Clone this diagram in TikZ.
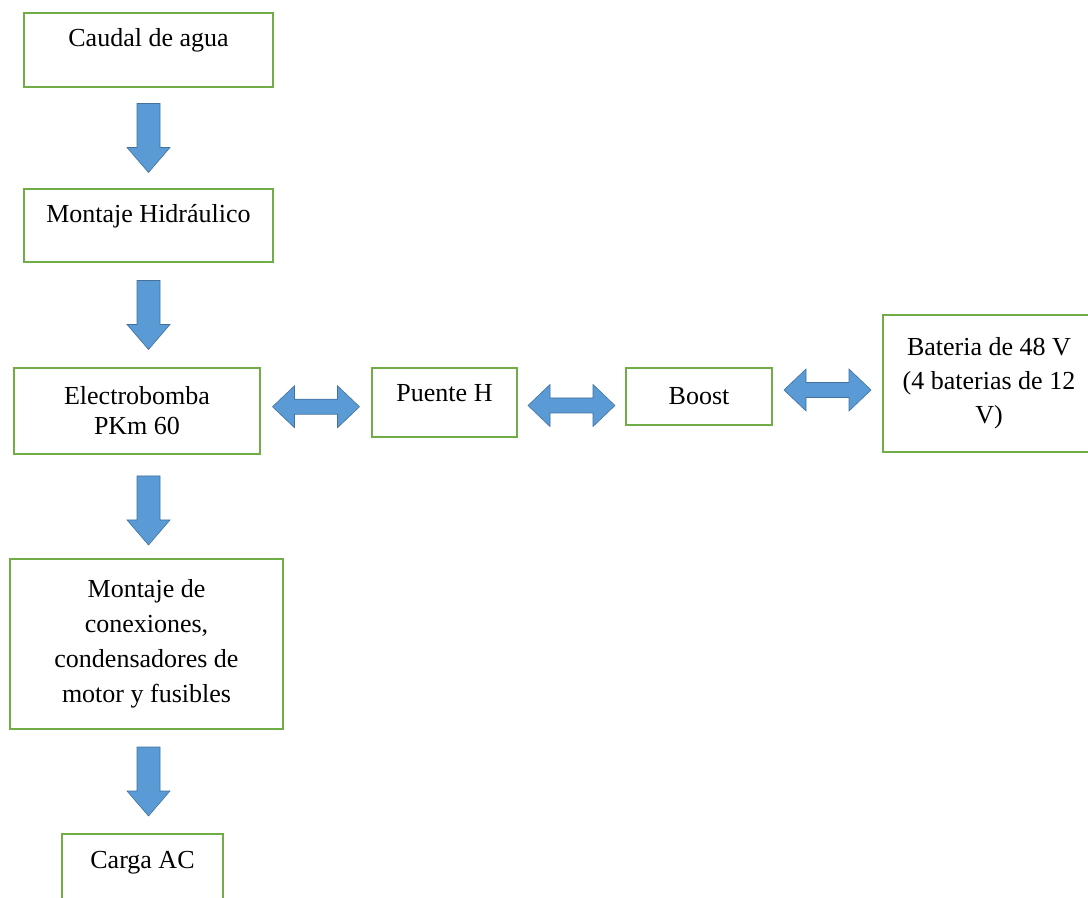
\documentclass[tikz,border=0pt]{standalone}
\usepackage{fontspec}
\setmainfont{Liberation Serif}
\usetikzlibrary{positioning,calc}
\definecolor{boxgreen}{RGB}{112,173,71}
\definecolor{flowblue}{RGB}{91,155,213}
\definecolor{flowedge}{RGB}{65,113,156}

\begin{document}
\begin{tikzpicture}[
    x=0.5pt, y=-0.5pt,
    box/.style={draw=boxgreen, line width=1pt, fill=white, align=center, inner xsep=2pt, font=\fontsize{13}{17}\selectfont},
    toptxt/.style={text height=17pt, text depth=#1, inner ysep=0pt},
    downflow/.pic={\filldraw[fill=flowblue, draw=flowedge, line width=0.3pt]
      (-5.75pt,17.25pt) -- (5.75pt,17.25pt) -- (5.75pt,-4.75pt) -- (10.75pt,-4.75pt) -- (0pt,-17.25pt)
      -- (-10.75pt,-4.75pt) -- (-5.75pt,-4.75pt) -- cycle;},
    bothflow/.pic={\filldraw[fill=flowblue, draw=flowedge, line width=0.3pt]
      (-21.75pt,0pt) -- (-10.75pt,10.5pt) -- (-10.75pt,3.75pt) -- (10.75pt,3.75pt) -- (10.75pt,10.5pt)
      -- (21.75pt,0pt) -- (10.75pt,-10.5pt) -- (10.75pt,-3.75pt) -- (-10.75pt,-3.75pt) -- (-10.75pt,-10.5pt) -- cycle;}
  ]
    \clip (0,0) rectangle (1088,898);
    % main column
    \node[box, toptxt=20pt, minimum width=124.5pt, anchor=north west] (caudal) at (23,12) {Caudal de agua};
    \node[box, toptxt=19.5pt, minimum width=124.5pt, below=50pt of caudal] (hidra) {Montaje Hidráulico};
    \node[box, minimum width=123pt, minimum height=43pt, below=52pt of hidra.south west, anchor=north west, xshift=-5pt, font=\fontsize{13}{15}\selectfont] (bomba) {Electrobomba\\PKm 60};
    \node[box, minimum width=136.5pt, minimum height=85pt, below=51.5pt of bomba.south west, anchor=north west, xshift=-2pt, font=\fontsize{13}{17.5}\selectfont] (montaje) {Montaje de\\conexiones,\\condensadores de\\motor y fusibles};
    \node[box, toptxt=30pt, minimum width=80.5pt, below=51.5pt of montaje.south west, anchor=north west, xshift=26pt] (carga) {Carga AC};
    % power row
    \node[box, toptxt=17.5pt, minimum width=72.5pt, right=55pt of bomba.north east, anchor=north west] (puente) {Puente H};
    \node[box, minimum width=73pt, minimum height=28.5pt, right=53.5pt of puente.north east, anchor=north west] (boost) {Boost};
    \node[box, minimum width=106pt, minimum height=68.5pt, right=54.5pt of boost.north east, anchor=north west, yshift=26.5pt] (bateria) {Bateria de 48 V\\(4 baterias de 12\\V)};

    \coordinate (m2) at ($(hidra.south)!0.5!(bomba.north)$);
    \coordinate (m3) at ($(bomba.south)!0.5!(montaje.north)$);
    \coordinate (m4) at ($(montaje.south)!0.5!(carga.north)$);
    \pic at ($(caudal.south)!0.5!(hidra.north)$) {downflow};
    \pic at (caudal.south |- m2) {downflow};
    \pic at ($(caudal.south |- m3)+(0,4)$) {downflow};
    \pic at (caudal.south |- m4) {downflow};

    \pic at ($(bomba.east)!0.5!(puente.west)$) {bothflow};
    \pic at ($(puente.east)!0.5!(boost.west)+(0,6)$) {bothflow};
    \pic at ($(boost.east)!0.5!(bateria.west)$) {bothflow};
  \end{tikzpicture}
\end{document}
